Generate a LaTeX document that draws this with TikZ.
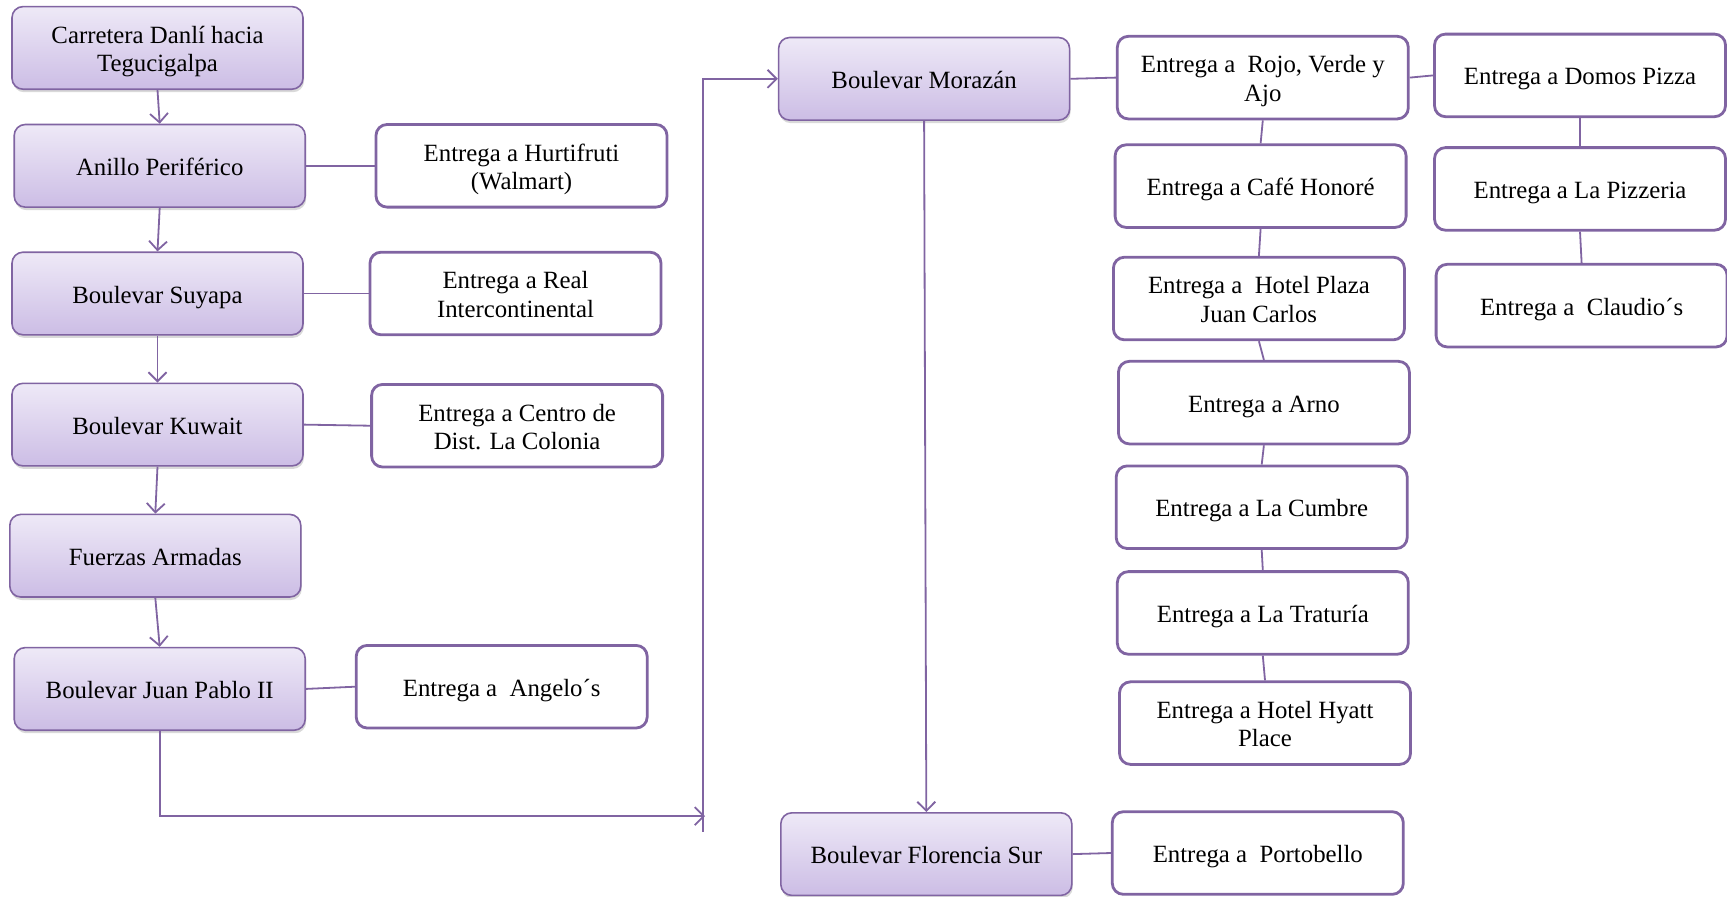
\documentclass[tikz,border=0pt]{standalone}
\usepackage{fontspec}
\setmainfont{Liberation Serif}
\usepackage{xcolor}
\usetikzlibrary{arrows.meta, positioning, shadows}

\definecolor{routeline}{RGB}{128,100,162}
\definecolor{routetop}{RGB}{238,233,247}
\definecolor{routebot}{RGB}{204,189,229}

\begin{document}
\begin{tikzpicture}[x=0.5pt, y=-0.5pt]

\tikzset{
  boxtext/.style={align=center, font=\fontsize{12.4}{14.2}\selectfont,
    text height=13pt, text depth=3.5pt},
  twoline/.style={text height=27.2pt},
  routebox/.style={boxtext, rectangle, rounded corners=5.5pt, draw=routeline,
    line width=0.8pt, top color=routetop, bottom color=routebot,
    minimum width=145.5pt, minimum height=41.3pt,
    drop shadow={opacity=0.3, shadow xshift=0.5pt, shadow yshift=-1.5pt}},
  stopbox/.style={boxtext, rectangle, rounded corners=5.5pt, draw=routeline,
    line width=1.4pt, fill=white,
    minimum width=145.5pt, minimum height=41.3pt},
  arrow/.style={-{Straight Barb[length=4.5pt, width=9pt]},
    line width=0.9pt, routeline},
  link/.style={line width=0.9pt, routeline}
}

\useasboundingbox (0,0) rectangle (1727,896);

% main route, left column
\node[routebox, twoline] (carretera) at (157.5,47.9) {Carretera Danlí hacia\\Tegucigalpa};
\node[routebox] (anillo)    at (159.7,165.8) {Anillo Periférico};
\node[routebox] (suyapa)    at (157.5,293.5) {Boulevar Suyapa};
\node[routebox] (kuwait)    at (157.5,424.6) {Boulevar Kuwait};
\node[routebox] (fuerzas)   at (155.3,555.7) {Fuerzas Armadas};
\node[routebox] (juanpablo) at (159.7,688.9) {Boulevar Juan Pablo II};

% deliveries, left column
\node[stopbox, twoline] (hurtifruti) at (521.5,165.8) {Entrega a Hurtifruti\\(Walmart)};
\node[stopbox, twoline] (real)       at (515.5,293.5) {Entrega a Real\\Intercontinental};
\node[stopbox, twoline] (colonia)    at (517.1,425.7) {Entrega a Centro de\\Dist. La Colonia};
\node[stopbox] (angelos) at (501.7,686.7) {Entrega a~ Angelo´s};

% main route, right side
\node[routebox] (morazan)   at (924.1,78.8)  {Boulevar Morazán};
\node[routebox] (florencia) at (926.3,854.1) {Boulevar Florencia Sur};
\node[stopbox]  (portobello) at (1257.8,853.0) {Entrega a~ Portobello};

% deliveries on Morazan
\node[stopbox, twoline] (rojo) at (1262.8,77.6) {Entrega a~ Rojo, Verde y\\Ajo};
\node[stopbox] (honore)  at (1260.6,186.1) {Entrega a Café Honoré};
\node[stopbox, twoline] (plaza) at (1258.9,298.5) {Entrega a~ Hotel Plaza\\Juan Carlos};
\node[stopbox] (arno)    at (1263.9,402.6) {Entrega a Arno};
\node[stopbox] (cumbre)  at (1261.7,507.2) {Entrega a La Cumbre};
\node[stopbox] (traturia) at (1262.8,612.9) {Entrega a La Traturía};
\node[stopbox, twoline] (hyatt) at (1265.0,723.1) {Entrega a Hotel Hyatt\\Place};

\node[stopbox] (domos)    at (1580.0,75.4)  {Entrega a Domos Pizza};
\node[stopbox] (pizzeria) at (1580.0,188.9) {Entrega a La Pizzeria};
\node[stopbox] (claudios) at (1581.6,305.6) {Entrega a~ Claudio´s};

\coordinate (turn)    at (705,816.1);
\coordinate (turnlow) at (702.7,831.6);

\draw[arrow] (carretera.south) -- (anillo.north);
\draw[arrow] (anillo.south)    -- (suyapa.north);
\draw[arrow] (suyapa.south)    -- (kuwait.north);
\draw[arrow] (kuwait.south)    -- (fuerzas.north);
\draw[arrow] (fuerzas.south)   -- (juanpablo.north);

\draw[link] (anillo.east)    -- (hurtifruti.west);
\draw[link] (suyapa.east)    -- (real.west);
\draw[link] (kuwait.east)    -- (colonia.west);
\draw[link] (juanpablo.east) -- (angelos.west);

\draw[arrow] (juanpablo.south) |- (turn);
\draw[arrow] (turnlow) |- (morazan.west);
\draw[arrow] (morazan.south) -- (florencia.north);

\draw[link] (morazan.east)   -- (rojo.west);
\draw[link] (rojo.east)      -- (domos.west);
\draw[link] (florencia.east) -- (portobello.west);

\draw[link] (rojo.south)     -- (honore.north);
\draw[link] (honore.south)   -- (plaza.north);
\draw[link] (plaza.south)    -- (arno.north);
\draw[link] (arno.south)     -- (cumbre.north);
\draw[link] (cumbre.south)   -- (traturia.north);
\draw[link] (traturia.south) -- (hyatt.north);

\draw[link] (domos.south)    -- (pizzeria.north);
\draw[link] (pizzeria.south) -- (claudios.north);

\end{tikzpicture}
\end{document}
